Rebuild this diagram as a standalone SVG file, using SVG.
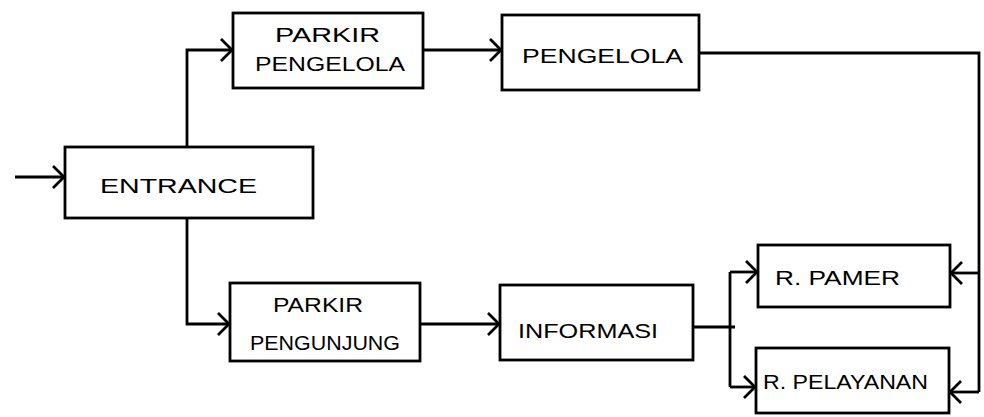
<svg xmlns="http://www.w3.org/2000/svg" width="984" height="417" viewBox="0 0 984 417">
<style>
  .box { fill: #fff; stroke: #000; stroke-width: 2.8; }
  .ln { fill: none; stroke: #000; stroke-width: 2.8; stroke-linejoin: miter; }
  .t { font-family: "Liberation Sans", Arial, sans-serif; font-size: 21px; fill: #000; }
</style>
<defs>
  <marker id="ah" markerUnits="userSpaceOnUse" markerWidth="18" markerHeight="28" refX="14" refY="14" orient="auto">
    <path d="M3,3 L14,14 L3,25" fill="none" stroke="#000" stroke-width="2.8"/>
  </marker>
</defs>
<rect width="984" height="417" fill="#fff"/>
<g id="connectors">
  <path class="ln" d="M15,177 L64,177" marker-end="url(#ah)"/>
  <path class="ln" d="M187,147 L187,50 L232,50" marker-end="url(#ah)"/>
  <path class="ln" d="M187,218 L187,324 L229,324" marker-end="url(#ah)"/>
  <path class="ln" d="M423,50 L501,50" marker-end="url(#ah)"/>
  <path class="ln" d="M420,324 L499,324" marker-end="url(#ah)"/>
  <path class="ln" d="M693,327 L735,327"/>
  <path class="ln" d="M730,272 L730,387"/>
  <path class="ln" d="M730,272 L757,272" marker-end="url(#ah)"/>
  <path class="ln" d="M730,387 L755,387" marker-end="url(#ah)"/>
  <path class="ln" d="M699,53 L979,53 L979,392"/>
  <path class="ln" d="M979,273 L951,273" marker-end="url(#ah)"/>
  <path class="ln" d="M979,392 L950,392" marker-end="url(#ah)"/>
</g>
<g id="entrance">
  <rect class="box" x="65" y="147" width="248" height="71"/>
  <text class="t" x="100" y="193" textLength="157" lengthAdjust="spacingAndGlyphs" font-size="24">ENTRANCE</text>
</g>
<g id="parkir-pengelola">
  <rect class="box" x="233" y="13" width="190" height="75"/>
  <text class="t" x="275" y="42" textLength="105" lengthAdjust="spacingAndGlyphs">PARKIR</text>
  <text class="t" x="255" y="71" textLength="150" lengthAdjust="spacingAndGlyphs">PENGELOLA</text>
</g>
<g id="pengelola">
  <rect class="box" x="502" y="15" width="197" height="75"/>
  <text class="t" x="522" y="63" textLength="161" lengthAdjust="spacingAndGlyphs">PENGELOLA</text>
</g>
<g id="parkir-pengunjung">
  <rect class="box" x="230" y="283" width="190" height="78"/>
  <text class="t" x="273" y="312" textLength="90" lengthAdjust="spacingAndGlyphs">PARKIR</text>
  <text class="t" x="250" y="350" textLength="150" lengthAdjust="spacingAndGlyphs">PENGUNJUNG</text>
</g>
<g id="informasi">
  <rect class="box" x="500" y="285" width="193" height="75"/>
  <text class="t" x="518" y="338" textLength="140" lengthAdjust="spacingAndGlyphs">INFORMASI</text>
</g>
<g id="r-pamer">
  <rect class="box" x="758" y="245" width="192" height="62"/>
  <text class="t" x="775" y="285" textLength="125" lengthAdjust="spacingAndGlyphs">R. PAMER</text>
</g>
<g id="r-pelayanan">
  <rect class="box" x="756" y="348" width="193" height="65"/>
  <text class="t" x="763" y="389" textLength="165" lengthAdjust="spacingAndGlyphs" font-size="18">R. PELAYANAN</text>
</g>
</svg>
